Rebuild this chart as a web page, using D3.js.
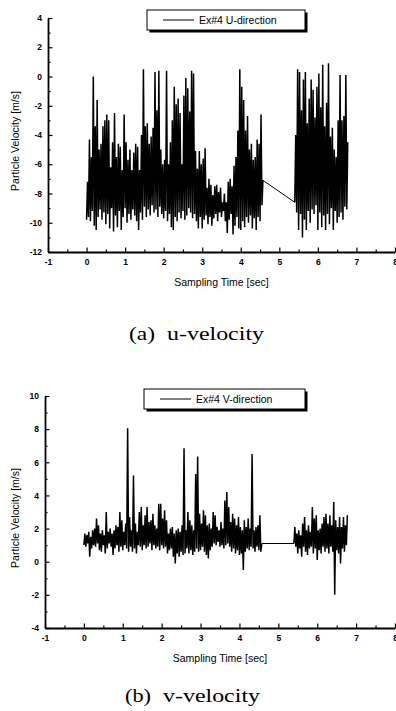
<!DOCTYPE html>
<html>
<head>
<meta charset="utf-8">
<script src="https://cdn.jsdelivr.net/npm/d3@7"></script>
<style>
  body { margin: 0; background: #fff; }
  svg text { font-family: "Liberation Sans", Arial, sans-serif; fill: #000; }
  .tick text { font-weight: bold; font-size: 8.5px; }
  .caption { font-family: "Liberation Serif", "Times New Roman", serif; font-size: 18px; }
</style>
</head>
<body>
<div id="chart"></div>
<script>
// Sampling grid: every 0.05 s bin keeps the lowest and highest velocity seen in it.
// null = no data recorded (the gap between ~4.6 s and ~5.4 s).
var sampleStep = 0.05;

var xMajor = [-1, 0, 1, 2, 3, 4, 5, 6, 7, 8];
var xMinor = [-0.5, 0.5, 1.5, 2.5, 3.5, 4.5, 5.5, 6.5, 7.5];

var uMajor = [-12, -10, -8, -6, -4, -2, 0, 2, 4];
var uMinor = [-11, -9, -7, -5, -3, -1, 1, 3];
var vMajor = [-4, -2, 0, 2, 4, 6, 8, 10];
var vMinor = [-3, -1, 1, 3, 5, 7, 9];

var gap = [null, null, null, null, null, null, null, null,
           null, null, null, null, null, null, null, null];

var uHigh = [
  -7.2, -4.3, -5.5, 0.0, -3.4, -1.6, -5.0, -4.6, -3.4, -3.0,
  -2.6, -3.0, -6.2, -4.5, -2.5, -5.5, -4.6, -4.8, -6.4, -2.6,
  -4.5, -5.7, -5.0, -6.4, -5.2, -4.6, -4.8, -6.4, -4.0, 0.5,
  -3.4, -3.2, -4.6, -4.1, -3.5, 0.3, -2.3, 0.4, -5.0, -6.0,
  -5.7, 0.4, -6.0, -4.5, -3.0, -0.7, -1.9, -1.5, -2.5, -6.0,
  -1.3, -0.1, -0.8, -2.4, 0.4, 0.2, -5.1, -6.3, -5.1, -6.0,
  -5.6, -4.9, -7.6, -7.0, -7.4, -8.1, -7.5, -7.4, -7.9, -7.6,
  -8.6, -8.0, -8.6, -7.2, -7.0, -7.5, -6.1, -5.5, -3.7, 0.5,
  -0.7, -1.6, -3.7, -2.7, -5.0, -4.6, -5.7, -5.5, -4.3, -4.6,
  -2.6, -7.1
].concat(gap, [
  -4.0, 0.5, 0.3, -2.3, -0.2, 0.3, -3.2, -1.5, -0.2, -0.9,
  -2.8, -0.7, 0.2, -2.1, 0.8, -3.4, -1.8, 0.9, -4.1, -3.5,
  -5.0, -5.5, -3.0, 0.1, -3.0, -2.7, 0.1, -4.5
]);

var uLow = [
  -9.8, -9.6, -9.9, -9.2, -10.2, -10.5, -9.6, -9.1, -9.8, -9.3,
  -10.1, -9.4, -10.4, -9.0, -10.6, -9.5, -10.3, -9.2, -10.5, -9.6,
  -9.0, -10.0, -9.4, -9.8, -9.1, -9.5, -9.9, -10.5, -9.3, -9.8,
  -8.9, -9.6, -9.1, -9.5, -8.8, -9.3, -9.1, -9.6, -8.9, -9.4,
  -9.7, -9.2, -9.9, -9.4, -10.3, -10.5, -9.6, -9.9, -9.3, -9.7,
  -9.2, -9.8, -9.5, -9.0, -9.3, -9.7, -9.4, -9.9, -10.4, -9.6,
  -10.4, -9.8, -9.5, -10.1, -9.6, -10.2, -9.7, -9.4, -9.9, -9.3,
  -9.6, -9.2, -9.9, -10.7, -9.8, -9.4, -10.8, -10.2, -9.6, -10.4,
  -10.5, -9.9, -10.3, -9.6, -10.0, -9.5, -10.4, -9.7, -10.5, -9.6,
  -9.9, -8.8
].concat(gap, [
  -8.6, -9.3, -10.5, -9.4, -11.0, -9.8, -10.5, -9.2, -10.0, -9.1,
  -9.4, -8.8, -10.5, -9.3, -10.3, -9.5, -10.5, -9.4, -10.1, -9.0,
  -10.5, -9.2, -10.0, -9.6, -9.3, -9.8, -8.9, -9.1
]);

var vHigh = [
  1.7, 1.6, 1.8, 1.5, 1.9, 2.0, 2.6, 2.2, 1.7, 1.9,
  1.6, 3.0, 1.8, 2.0, 1.7, 1.9, 2.2, 2.1, 3.0, 2.5,
  1.8, 2.3, 8.05, 2.7, 1.9, 5.2, 2.3, 1.8, 3.0, 3.3,
  2.2, 2.8, 3.3, 2.4, 2.5, 2.9, 2.2, 2.0, 3.5, 3.5,
  2.6, 3.1, 2.5, 1.7, 2.0, 2.1, 1.7, 1.9, 2.0, 1.8,
  2.2, 6.85, 1.9, 3.0, 2.5, 2.2, 1.9, 5.3, 6.35, 2.9,
  2.3, 3.1, 2.8, 2.2, 2.3, 2.0, 3.0, 2.8, 2.1, 1.9,
  2.4, 2.0, 3.7, 4.2, 3.3, 2.4, 2.9, 2.6, 2.2, 2.7,
  2.1, 1.9, 2.5, 2.1, 2.6, 2.0, 6.5, 1.9, 2.1, 2.2,
  2.8, 1.1
].concat(gap, [
  2.1, 1.7, 1.9, 1.6, 2.3, 2.7, 1.9, 2.2, 1.8, 3.3,
  2.6, 2.8, 1.9, 2.0, 2.3, 2.7, 2.9, 2.3, 2.8, 2.2,
  3.6, 2.5, 2.1, 2.7, 2.1, 2.7, 2.2, 2.8
]);

var vLow = [
  1.0, 0.9, 1.1, 0.3, 0.8, 1.0, 0.9, 1.1, 0.7, 0.6,
  1.0, 0.5, 0.8, 1.1, 0.9, 0.4, 0.8, 1.0, 0.6, 0.9,
  0.7, 1.0, 0.8, 0.6, 0.9, 0.6, 0.8, 0.5, 1.0, 0.9,
  0.7, 1.0, 0.8, 0.9, 1.1, 0.7, 1.0, 0.8, 0.9, 0.7,
  1.0, 0.8, 0.9, 0.5, 0.7, 0.8, 0.3, -0.1, 0.5, 0.3,
  0.6, 0.4, 0.5, 0.8, 0.5, 0.7, 0.4, 0.6, 0.8, 0.6,
  0.7, 0.9, 0.6, 0.4, 0.2, 0.7, 0.9, 1.1, 1.0, 1.2,
  0.9, 1.0, 0.8, 1.0, 1.1, 0.9, 0.6, 0.8, 0.5, 0.7,
  0.4, 0.5, -0.5, 0.6, 0.8, 0.7, 0.9, 0.8, 0.6, 0.9,
  0.7, 0.6
].concat(gap, [
  1.1, 0.9, 0.5, 0.8, 0.3, 0.9, 0.6, 0.4, 0.8, 0.9,
  0.5, 0.8, 0.1, 0.7, 0.5, 0.9, 0.6, 0.8, 0.5, 0.9,
  0.6, -2.0, 0.7, 0.5, -0.1, 0.8, 0.6, 1.0
]);

var svg = d3.select("#chart").append("svg")
    .attr("width", 396)
    .attr("height", 711);

// turn the low/high bins into one zig-zag trace; an empty bin becomes a
// break marker so the dense part and the gap connector can be drawn apart
var toSamples = function(low, high) {
    var out = [];
    low.forEach(function(lo, i) {
        if (lo === null) {
            if (out.length && out[out.length - 1].v !== null) out.push({ t: i * sampleStep, v: null });
            return;
        }
        out.push({ t: i * sampleStep, v: lo });
        out.push({ t: i * sampleStep + sampleStep / 2, v: high[i] });
    });
    return out;
};

// plain hyphen minus, like the original Origin plot
var fmt = function(d) { return String(d); };

var drawPanel = function(p) {
    var x = d3.scaleLinear().domain([-1, 8]).range(p.xRange);
    var y = d3.scaleLinear().domain(p.yDomain).range(p.yRange);
    var g = svg.append("g");

    // minor ticks first, then majors with labels
    g.append("g")
     .attr("transform", "translate(0," + p.yRange[0] + ")")
     .call(d3.axisBottom(x).tickValues(xMinor).tickSize(-2.5).tickFormat(""))
     .call(function(a) { a.select(".domain").remove(); });
    g.append("g")
     .attr("transform", "translate(" + p.xRange[0] + ",0)")
     .call(d3.axisLeft(y).tickValues(p.yMinor).tickSize(-2.5).tickFormat(""))
     .call(function(a) { a.select(".domain").remove(); });

    g.append("g")
     .attr("transform", "translate(0," + p.yRange[0] + ")")
     .call(d3.axisBottom(x).tickValues(xMajor).tickFormat(fmt)
            .tickSize(-4.5).tickSizeOuter(0).tickPadding(7));
    g.append("g")
     .attr("transform", "translate(" + p.xRange[0] + ",0)")
     .call(d3.axisLeft(y).tickValues(p.yMajor).tickFormat(fmt)
            .tickSize(-4.5).tickSizeOuter(0).tickPadding(6));

    g.selectAll(".domain").attr("stroke-width", 1.8);
    g.selectAll(".tick line").attr("stroke-width", 1.2);

    var samples = toSamples(p.low, p.high);
    var brk = samples.findIndex(function(d) { return d.v === null; });

    // thin straight connector across the missing stretch
    var line = d3.line()
        .defined(function(d) { return d.v !== null; })
        .x(function(d) { return x(d.t); })
        .y(function(d) { return y(d.v); });
    g.append("path")
     .datum([samples[brk - 1], samples[brk + 1]])
     .attr("fill", "none")
     .attr("stroke", "#000")
     .attr("stroke-width", 1)
     .attr("d", line);

    // the dense trace itself
    g.append("path")
     .datum(samples)
     .attr("fill", "none")
     .attr("stroke", "#000")
     .attr("stroke-width", 1.5)
     .attr("stroke-linejoin", "bevel")
     .attr("d", line);

    // axis titles
    g.append("text")
     .attr("x", x(3.5))
     .attr("y", p.yRange[0] + 34)
     .attr("text-anchor", "middle")
     .style("font-size", "10.5px")
     .text("Sampling Time [sec]");
    g.append("text")
     .attr("transform", "translate(19," + ((p.yRange[0] + p.yRange[1]) / 2 + 6) + ") rotate(-90)")
     .attr("text-anchor", "middle")
     .style("font-size", "10.5px")
     .text("Particle Velocity [m/s]");

    // legend with the chunky drop shadow
    var lb = p.legend;
    g.append("rect")
     .attr("x", lb.x + 2.5).attr("y", lb.y + 2.5)
     .attr("width", lb.w).attr("height", lb.h)
     .attr("fill", "#000");
    g.append("rect")
     .attr("x", lb.x).attr("y", lb.y)
     .attr("width", lb.w).attr("height", lb.h)
     .attr("fill", "#fff").attr("stroke", "#000").attr("stroke-width", 1);
    g.append("line")
     .attr("x1", lb.x + 16).attr("x2", lb.x + 47)
     .attr("y1", lb.y + lb.h / 2).attr("y2", lb.y + lb.h / 2)
     .attr("stroke", "#000").attr("stroke-width", 1);
    g.append("text")
     .attr("x", lb.x + 52)
     .attr("y", lb.y + lb.h / 2 + 4)
     .style("font-size", "10.5px")
     .text(p.legendText);

    // caption under the panel
    var cap = g.append("text").attr("class", "caption").attr("y", p.captionY);
    cap.append("tspan").attr("x", p.captionX)
       .attr("textLength", 26).attr("lengthAdjust", "spacingAndGlyphs")
       .text(p.captionTag);
    cap.append("tspan").attr("x", p.captionX + 38)
       .attr("textLength", 97).attr("lengthAdjust", "spacingAndGlyphs")
       .text(p.captionText);
};

drawPanel({
    xRange: [48, 395], yRange: [252, 18], yDomain: [-12, 4],
    yMajor: uMajor, yMinor: uMinor,
    low: uLow, high: uHigh,
    legend: { x: 147, y: 10, w: 158, h: 20 },
    legendText: "Ex#4 U-direction",
    captionTag: "(a)", captionText: "u-velocity",
    captionX: 129, captionY: 340
});

drawPanel({
    xRange: [45, 395], yRange: [628, 396], yDomain: [-4, 10],
    yMajor: vMajor, yMinor: vMinor,
    low: vLow, high: vHigh,
    legend: { x: 144, y: 389, w: 161, h: 20 },
    legendText: "Ex#4 V-direction",
    captionTag: "(b)", captionText: "v-velocity",
    captionX: 125, captionY: 702
});
</script>
</body>
</html>
